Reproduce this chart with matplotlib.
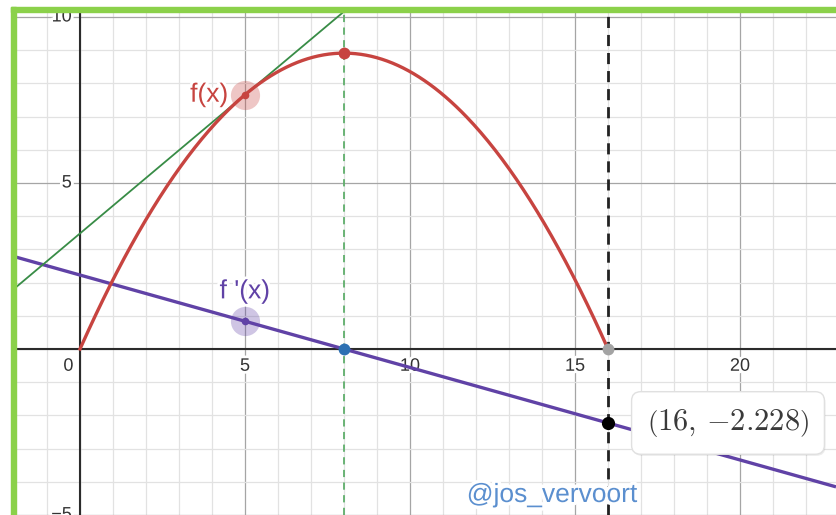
import numpy as np
import matplotlib.pyplot as plt
import matplotlib.patheffects as pe
from matplotlib.patches import Rectangle
from matplotlib.transforms import offset_copy

# curve data: f(x) = a*x*(16 - x), f'(16) = -2.228
a = 0.13925
root_left, root_right = 0.0, 16.0
x_tangent = 5.0
x_top = 8.0
point_label = "$\\left(16,\\,{-2.228}\\right)$"

x_ticks = [0, 5, 10, 15, 20]
x_tick_labels = ["0", "5", "10", "15", "20"]
y_ticks = [10, 5, -5]
y_tick_labels = ["10", "5", "\u22125"]

RED = "#c74440"
GREEN = "#388c46"
BLUE = "#2d70b3"
PURPLE = "#6042a6"
GRAY = "#a3a3a3"


def f(x):
    return a * x * (root_right - x)


def df(x):
    return a * (root_right - 2 * x)


W, H = 836, 515
fig = plt.figure(figsize=(W / 100, H / 100), dpi=100)
ax = fig.add_axes([16 / W, 0, 1 - 16 / W, 1 - 12 / H])
ax.set_axis_off()

xmin, xmax = (16 - 80) / 33.0, (836 - 80) / 33.0
ymin, ymax = (349 - 515) / 33.2, (349 - 12) / 33.2
ax.set_xlim(xmin, xmax)
ax.set_ylim(ymin, ymax)

# grid
for gx in range(int(np.floor(xmin)), int(np.ceil(xmax)) + 1):
    major = gx % 5 == 0
    ax.axvline(gx, color="#a5a5a5" if major else "#e2e2e2", lw=0.9, zorder=0)
for gy in range(int(np.floor(ymin)), int(np.ceil(ymax)) + 1):
    major = gy % 5 == 0
    ax.axhline(gy, color="#a5a5a5" if major else "#e2e2e2", lw=0.9, zorder=0)
ax.axhline(0, color="#2b2b2b", lw=1.5, zorder=1)
ax.axvline(0, color="#2b2b2b", lw=1.5, zorder=1)

halo = [pe.withStroke(linewidth=4, foreground="white")]
for v, lab in zip(x_ticks, x_tick_labels):
    xx = -0.35 if v == 0 else v
    ax.text(xx, -0.52, lab, ha="center", va="center", fontsize=13,
            color="#333333", family="Liberation Sans", path_effects=halo, zorder=2)
for v, lab in zip(y_ticks, y_tick_labels):
    ax.text(-0.25, v, lab, ha="right", va="center", fontsize=13,
            color="#333333", family="Liberation Sans", path_effects=halo, zorder=2)

# dashed verticals
ax.axvline(x_top, color="#5fae6b", lw=1.3, ls=(0, (4, 3)), zorder=3)
ax.axvline(root_right, color="#222222", lw=2.0, ls=(0, (4, 2.5)), zorder=3)

# derivative line
xs = np.linspace(xmin, xmax, 50)
ax.plot(xs, df(xs), color=PURPLE, lw=2.4, zorder=4, solid_capstyle="butt")

# tangent line at x = 5
ax.plot(xs, f(x_tangent) + df(x_tangent) * (xs - x_tangent), color=GREEN, lw=1.3, zorder=4)

# parabola
xc = np.linspace(root_left, root_right, 300)
ax.plot(xc, f(xc), color=RED, lw=2.4, zorder=5)

# points
ax.plot(x_tangent, f(x_tangent), "o", ms=21, color=RED, alpha=0.3, mec="none", zorder=6)
ax.plot(x_tangent, f(x_tangent), "o", ms=5.5, color=RED, mec="none", zorder=7)
ax.plot(x_tangent, df(x_tangent), "o", ms=21, color=PURPLE, alpha=0.3, mec="none", zorder=6)
ax.plot(x_tangent, df(x_tangent), "o", ms=5.5, color=PURPLE, mec="none", zorder=7)
ax.plot(x_top, f(x_top), "o", ms=8.5, color=RED, mec="none", zorder=7)
ax.plot(x_top, 0, "o", ms=8.5, color=BLUE, mec="none", zorder=7)
ax.plot(root_right, 0, "o", ms=8.5, color=GRAY, mec="none", zorder=7)
ax.plot(root_right, df(root_right), "o", ms=9.5, color="black", mec="none", zorder=7)

# function labels
ax.text(x_tangent - 0.5, f(x_tangent), "f(x)", ha="right", va="center", fontsize=19,
        color=RED, family="Liberation Sans", path_effects=halo, zorder=8)
ax.text(x_tangent, df(x_tangent) + 0.9, "f '(x)", ha="center", va="center", fontsize=19,
        color=PURPLE, family="Liberation Sans", path_effects=halo, zorder=8)

# coordinate label box (soft shadow + white card)
tr = offset_copy(ax.transData, fig=fig, x=120 * 0.72, y=0, units="points")
tr_shadow = offset_copy(ax.transData, fig=fig, x=120 * 0.72 + 0.8, y=-1.2, units="points")
ax.text(root_right, df(root_right), point_label, transform=tr_shadow, ha="center",
        va="center", fontsize=22, color="none", math_fontfamily="cm", zorder=8.5,
        bbox=dict(boxstyle="round,pad=0.5,rounding_size=0.3", fc="#00000012",
                  ec="none"))
ax.text(root_right, df(root_right), point_label, transform=tr, ha="center", va="center",
        fontsize=22, color="#3a3a3a", math_fontfamily="cm", zorder=9,
        bbox=dict(boxstyle="round,pad=0.5,rounding_size=0.3", fc="white",
                  ec="#e0e0e0", lw=1.0))

# watermark
ax.text(552 / 33.0 - 80 / 33.0, (349 - 495) / 33.2, "@jos_vervoort", ha="center", va="center",
        fontsize=19, color="#5b8fcf", family="Liberation Sans",
        path_effects=[pe.withStroke(linewidth=5, foreground="white")], zorder=9)

# green frame
green = "#8bd14a"
fig.patches.append(Rectangle((11 / W, 0), 5 / W, (H - 7) / H, transform=fig.transFigure,
                             color=green, zorder=20))
fig.patches.append(Rectangle((11 / W, (H - 12) / H), 1 - 11 / W, 5 / H,
                             transform=fig.transFigure, color=green, zorder=20))

fig.savefig("out.png", dpi=100)
